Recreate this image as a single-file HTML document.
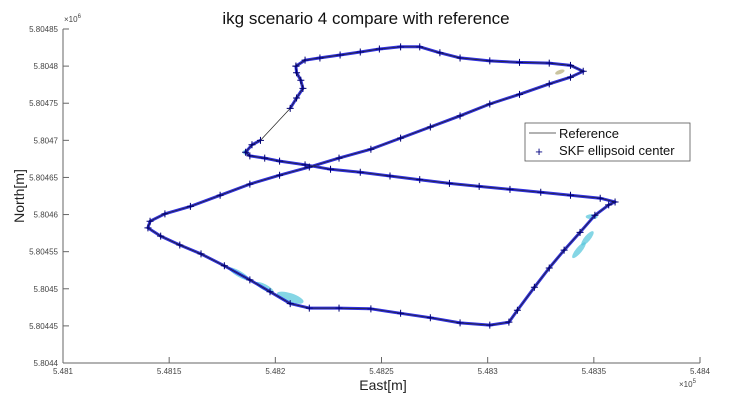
<!DOCTYPE html>
<html><head><meta charset="utf-8"><style>
body{margin:0;background:#fff;width:730px;height:409px;overflow:hidden}
svg text{font-family:"Liberation Sans",sans-serif}
</style></head><body>
<svg id="chart" width="730" height="409" xmlns="http://www.w3.org/2000/svg">
<text x="366" y="24" font-size="17" text-anchor="middle" fill="#111">ikg scenario 4 compare with reference</text>
<g id="axes"></g>
<g id="ellipses"></g>
<g id="plot"></g>
<text x="383" y="390" font-size="14" text-anchor="middle" fill="#222">East[m]</text>
<text transform="translate(24,196) rotate(-90)" font-size="14" text-anchor="middle" fill="#222">North[m]</text>
<text x="64" y="22" font-size="8" fill="#444">×10<tspan dy="-4" font-size="6">6</tspan></text>
<text x="679" y="387" font-size="8" fill="#444">×10<tspan dy="-4" font-size="6">5</tspan></text>
<g>
<rect x="525" y="123" width="165" height="38" fill="#fff" stroke="#555" stroke-width="0.8"/>
<line x1="529" y1="133" x2="556" y2="133" stroke="#333" stroke-width="0.8"/>
<text x="559" y="138" font-size="13" fill="#111">Reference</text>
<text x="539" y="156" font-size="13" fill="#000080" text-anchor="middle">+</text>
<text x="559" y="155" font-size="13" fill="#111">SKF ellipsoid center</text>
</g>
</svg>
<script>
const xTicks=[548100,548150,548200,548250,548300,548350,548400];
const xTickLabels=["5.481","5.4815","5.482","5.4825","5.483","5.4835","5.484"];
const yTicks=[5804400,5804450,5804500,5804550,5804600,5804650,5804700,5804750,5804800,5804850];
const yTickLabels=["5.8044","5.80445","5.8045","5.80455","5.8046","5.80465","5.8047","5.80475","5.8048","5.80485"];
const east=[548209.7,548214,548221,548230.5,548240,548249,548259,548268,548277.5,548287,548301,548315,548329,548339,548345,548339,548329,548315,548301,548287,548273,548259,548245,548230,548216,548202,548188,548174,548160,548148,548141,548140,548146,548155,548165,548176,548188,548197.5,548207,548216,548230,548245,548259,548273,548287,548301,548310,548314,548322,548329,548336,548343.5,548350.5,548357,548360,548353,548339,548325,548310.5,548296,548282,548268,548254,548240,548226,548214,548202,548195,548188,548186,548189,548193,548207,548210,548213,548212,548210,548209.7];
const north=[5804800,5804808,5804811,5804815,5804819,5804823,5804826,5804826,5804818,5804811,5804807,5804805,5804804,5804801,5804793,5804785,5804776,5804762,5804749,5804733,5804718,5804703,5804688,5804676,5804664,5804653,5804641,5804626,5804611,5804601,5804591,5804582,5804571,5804559,5804547,5804531,5804512,5804496,5804480,5804474,5804474,5804473,5804467,5804461,5804454,5804451,5804455,5804471,5804502,5804528,5804552,5804576,5804599,5804613,5804617,5804622,5804626,5804630,5804634,5804638,5804642,5804647,5804652,5804657,5804661,5804667,5804672,5804676,5804679,5804684,5804694,5804700,5804743,5804757,5804770,5804781,5804791,5804800];
const ellE=[548183,548195,548207,548343,548347,548349,548334,548186];
const ellN=[5804520,5804502,5804488,5804552,5804568,5804597,5804792,5804684];
const ellRx=[12,10,14,10,9,6,5,3];
const ellRy=[3,3,4.5,3,3,2.5,2,2.5];
const ellRot=[30,28,18,-50,-50,0,-20,0];

const NS="http://www.w3.org/2000/svg";
const X=v=>63+(v-548100)/300*637;
const Y=v=>363-(v-5804400)/450*334;
function mk(t,a,p){const e=document.createElementNS(NS,t);for(const k in a)e.setAttribute(k,a[k]);p.appendChild(e);return e;}
const axes=document.getElementById('axes');
let l=mk('line',{x1:63,y1:363,x2:700,y2:363,stroke:'#666','stroke-width':1},axes);


l=mk('line',{x1:63,y1:29,x2:63,y2:363,stroke:'#666','stroke-width':1},axes);


xTicks.forEach((v,i)=>{const x=X(v);
 mk('line',{x1:x,y1:363,x2:x,y2:357,stroke:'#666'},axes);
 const t=mk('text',{x:x,y:374,'font-size':8,'text-anchor':'middle',fill:'#444'},axes);t.textContent=xTickLabels[i];
 
 });
yTicks.forEach((v,i)=>{const y=Y(v);
 mk('line',{x1:63,y1:y,x2:69,y2:y,stroke:'#666'},axes);
 const t=mk('text',{x:58,y:y+3,'font-size':8,'text-anchor':'end',fill:'#444'},axes);t.textContent=yTickLabels[i];
 
 });
const eg=document.getElementById('ellipses');
ellE.forEach((v,i)=>{const cx=X(v),cy=Y(ellN[i]);
 const e=mk('ellipse',{cx:cx,cy:cy,rx:ellRx[i],ry:ellRy[i],fill:i==6?'#b8b080':'#5cc8dc','fill-opacity':0.75,transform:`rotate(${ellRot[i]} ${cx} ${cy})`},eg);
 
 });
const pg=document.getElementById('plot');
let d='';east.forEach((v,i)=>{d+=(i==0||i==72?'M':'L')+X(v).toFixed(1)+' '+Y(north[i]).toFixed(1)+' ';});
const band=mk('path',{d:d,fill:'none',stroke:'#1a1ad8','stroke-width':3,'stroke-linejoin':'round','stroke-opacity':0.9},pg);


let d2='';east.forEach((v,i)=>{d2+=(i?'L':'M')+X(v).toFixed(1)+' '+Y(north[i]).toFixed(1)+' ';});
const ref=mk('path',{d:d2,fill:'none',stroke:'#222','stroke-width':0.7},pg);


east.forEach((v,i)=>{const x=X(v),y=Y(north[i]);
 const m=mk('path',{d:`M${x-3.5} ${y}H${x+3.5}M${x} ${y-3.5}V${y+3.5}`,stroke:'#000070','stroke-width':1},pg);
 
 });
</script>
</body></html>
